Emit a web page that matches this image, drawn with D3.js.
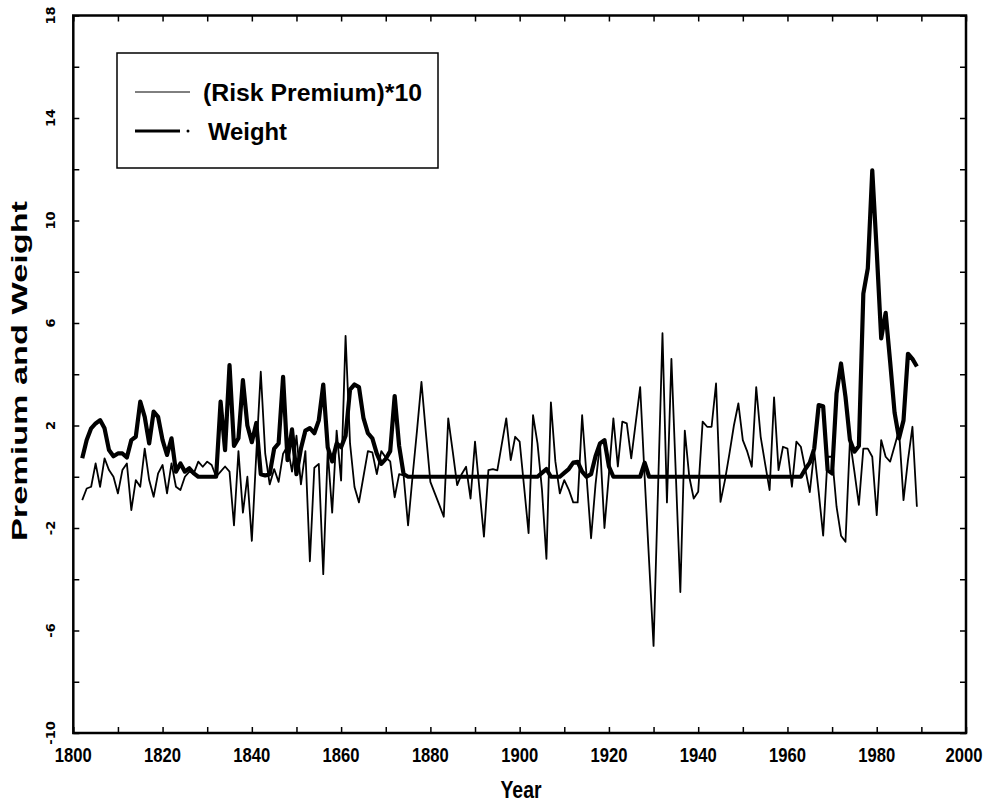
<!DOCTYPE html>
<html>
<head>
<meta charset="utf-8">
<script src="https://cdn.jsdelivr.net/npm/d3@7"></script>
<style>
  body { margin: 0; background: #fff; }
  .tick line { stroke: #000; stroke-width: 1.5; }
</style>
</head>
<body>
<svg id="chart" width="992" height="803"></svg>
<script>
// years 1802-1989, one value per year
var years = d3.range(1802, 1990);

// (Risk Premium)*10, thin line
var premium = [
  -0.91, -0.46, -0.39, 0.52, -0.39, 0.72, 0.26, 0.0,
  -0.65, 0.26, 0.52, -1.3, -0.13, -0.39, 1.1, -0.13, -0.78, 0.13,
  0.46, -0.65, 0.52, -0.39, -0.52, 0.0, 0.2, 0.13, 0.59, 0.39,
  0.59, 0.46, 0.0, 0.2, 0.4, 0.2, -1.9, 1.0, -1.4, 0.0,
  -2.5, 0.9, 4.1, 0.9, -0.3, 0.3, -0.2, 0.9, 1.2, 0.2,
  1.6, -0.3, 1.0, -3.3, 0.35, 0.5, -3.8, 1.0, -1.4, 1.8,
  -0.15, 5.5, 1.3, -0.4, -1.0, 0.0, 1.0, 0.95, 0.1, 1.0,
  0.75, 0.6, -0.8, 0.1, 0.05, -1.9, 0.0, 1.8, 3.7, 1.7,
  -0.2, -0.65, -1.1, -1.56, 2.28, 1.0, -0.33, 0.1, 0.39, -0.85,
  1.37, -0.5, -2.34, 0.26, 0.3, 0.25, 1.27, 2.28, 0.65, 1.56,
  1.37, -0.4, -2.2, 2.4, 1.3, -0.5, -3.2, 2.9, 0.6, -0.65,
  -0.13, -0.5, -1.0, -1.0, 2.4, 0.0, -2.4, -0.3, 1.3, -2.0,
  0.1, 2.28, 0.4, 2.15, 2.08, 0.72, 2.1, 3.5, 0.0, -3.3,
  -6.6, -0.5, 5.6, -1.0, 4.6, 0.05, -4.5, 1.8, 0.0, -0.85,
  -0.59, 2.15, 1.95, 1.95, 3.64, -0.98, -0.13, 0.9, 2.0, 2.86,
  1.43, 0.98, 0.39, 3.5, 1.56, 0.5, -0.52, 3.1, 0.26, 1.17,
  1.1, -0.39, 1.37, 1.17, 0.3, -0.6, 1.0, -0.6, -2.3, 0.78,
  0.78, -1.17, -2.3, -2.54, 1.43, 0.2, -1.1, 1.1, 1.1, 0.78,
  -1.5, 1.43, 0.78, 0.59, 1.2, 1.82, -0.91, 0.65, 1.95, -1.17
];

// Weight, thick line
var weight = [
  0.72, 1.43, 1.89, 2.08, 2.21, 1.89, 1.04, 0.8,
  0.91, 0.91, 0.75, 1.43, 1.56, 2.93, 2.34, 1.3, 2.54, 2.34,
  1.43, 0.85, 1.5, 0.2, 0.52, 0.2, 0.33, 0.13, 0, 0,
  0, 0, 0, 2.93, 1.04, 4.36, 1.2, 1.5, 3.77, 2.0,
  1.35, 2.1, 0.1, 0.05, 0.1, 1.1, 1.3, 3.9, 0.65, 1.85,
  0.1, 1.1, 1.8, 1.9, 1.7, 2.2, 3.6, 1.15, 0.6, 1.3,
  1.15, 1.6, 3.4, 3.6, 3.5, 2.3, 1.7, 1.5, 0.9, 0.5,
  0.7, 1.0, 3.15, 1.2, 0.1, 0, 0, 0, 0, 0,
  0, 0, 0, 0, 0, 0, 0, 0, 0, 0,
  0, 0, 0, 0, 0, 0, 0, 0, 0, 0,
  0, 0, 0, 0, 0, 0.15, 0.3, 0, 0, 0,
  0.15, 0.3, 0.55, 0.58, 0.2, 0, 0.1, 0.8, 1.3, 1.43,
  0.4, 0, 0, 0, 0, 0, 0, 0, 0.55, 0,
  0, 0, 0, 0, 0, 0, 0, 0, 0, 0,
  0, 0, 0, 0, 0, 0, 0, 0, 0, 0,
  0, 0, 0, 0, 0, 0, 0, 0, 0, 0,
  0, 0, 0, 0, 0.3, 0.55, 1.1, 2.8, 2.75, 0.26,
  0.13, 3.25, 4.42, 3.12, 1.43, 0.98, 1.2, 7.15, 8.13, 11.96,
  8.8, 5.4, 6.4, 4.5, 2.5, 1.5, 2.2, 4.8, 4.6, 4.3
];

var xTickLabels = [1800, 1820, 1840, 1860, 1880, 1900, 1920, 1940, 1960, 1980, 2000];
var yTickLabels = [-10, -6, -2, 2, 6, 10, 14, 18];
var legendLabels = ["(Risk Premium)*10", "Weight"];

var svg = d3.select("#chart");
svg.append("rect").attr("width", 992).attr("height", 803).attr("fill", "#fff");

var x = d3.scaleLinear().domain([1800, 2000]).range([73.3, 966]);
var y = d3.scaleLinear().domain([-10, 18]).range([733, 15.5]);

// ticks on all four sides, pointing inward
var xt = d3.range(1800, 2001, 10), yt = d3.range(-10, 19, 2);
svg.append("g").attr("transform", "translate(0," + y(-10) + ")")
  .call(d3.axisBottom(x).tickValues(xt).tickSize(-6).tickFormat(""));
svg.append("g").attr("transform", "translate(0," + y(18) + ")")
  .call(d3.axisTop(x).tickValues(xt).tickSize(-6).tickFormat(""));
svg.append("g").attr("transform", "translate(" + x(1800) + ",0)")
  .call(d3.axisLeft(y).tickValues(yt).tickSize(-6).tickFormat(""));
svg.append("g").attr("transform", "translate(" + x(2000) + ",0)")
  .call(d3.axisRight(y).tickValues(yt).tickSize(-6).tickFormat(""));
svg.selectAll(".domain").remove();

// frame
svg.append("rect")
  .attr("x", x(1800)).attr("y", y(18))
  .attr("width", x(2000) - x(1800)).attr("height", y(-10) - y(18))
  .attr("fill", "none").attr("stroke", "#000").attr("stroke-width", 2.5);

// tick labels
svg.selectAll(".xlab").data(xTickLabels).enter().append("text")
  .attr("class", "xlab")
  .attr("x", d => x(d) - (d === 2000 ? 2 : 0)).attr("y", 762)
  .attr("text-anchor", "middle")
  .attr("textLength", 37).attr("lengthAdjust", "spacingAndGlyphs")
  .style("font-family", "'Liberation Sans', sans-serif")
  .style("font-weight", "bold").style("font-size", "20px")
  .text(d => d);

svg.selectAll(".ylab").data(yTickLabels).enter().append("text")
  .attr("class", "ylab")
  .attr("transform", d => "translate(55," + y(d) + ") rotate(-90)")
  .attr("text-anchor", "middle")
  .style("font-family", "'DejaVu Sans', sans-serif")
  .style("font-weight", "bold").style("font-size", "13px")
  .text(d => d);

// axis titles
svg.append("text")
  .attr("x", 521).attr("y", 798).attr("text-anchor", "middle")
  .attr("textLength", 41).attr("lengthAdjust", "spacingAndGlyphs")
  .style("font-family", "'Liberation Sans', sans-serif")
  .style("font-weight", "bold").style("font-size", "23px")
  .text("Year");

svg.append("text")
  .attr("transform", "translate(27,371) rotate(-90)")
  .attr("text-anchor", "middle")
  .attr("textLength", 340).attr("lengthAdjust", "spacingAndGlyphs")
  .style("font-family", "'Liberation Sans', sans-serif")
  .style("font-weight", "bold").style("font-size", "22px")
  .text("Premium and Weight");

// series
var line = d3.line().x((d, i) => x(years[i])).y(d => y(d));

svg.append("path").datum(weight)
  .attr("d", line).attr("fill", "none")
  .attr("stroke", "#000").attr("stroke-width", 4.2)
  .attr("stroke-linejoin", "round");

svg.append("path").datum(premium)
  .attr("d", line).attr("fill", "none")
  .attr("stroke", "#000").attr("stroke-width", 1.8)
  .attr("stroke-linejoin", "round");

// legend
var lg = svg.append("g");
lg.append("rect").attr("x", 117).attr("y", 53).attr("width", 321).attr("height", 115)
  .attr("fill", "#fff").attr("stroke", "#000").attr("stroke-width", 1.5);
lg.append("line").attr("x1", 135).attr("x2", 190).attr("y1", 92).attr("y2", 92)
  .attr("stroke", "#000").attr("stroke-width", 1);
lg.append("line").attr("x1", 135).attr("x2", 180).attr("y1", 131).attr("y2", 131)
  .attr("stroke", "#000").attr("stroke-width", 3);
lg.append("circle").attr("cx", 188).attr("cy", 131).attr("r", 1.5).attr("fill", "#000");
lg.selectAll(".lgt").data(legendLabels).enter().append("text")
  .attr("class", "lgt")
  .attr("x", (d, i) => i === 0 ? 203 : 208)
  .attr("y", (d, i) => i === 0 ? 101 : 140)
  .attr("textLength", (d, i) => i === 0 ? 219 : 79)
  .attr("lengthAdjust", "spacingAndGlyphs")
  .style("font-family", "'Liberation Sans', sans-serif")
  .style("font-weight", "bold").style("font-size", "23.5px")
  .text(d => d);
</script>
</body>
</html>
